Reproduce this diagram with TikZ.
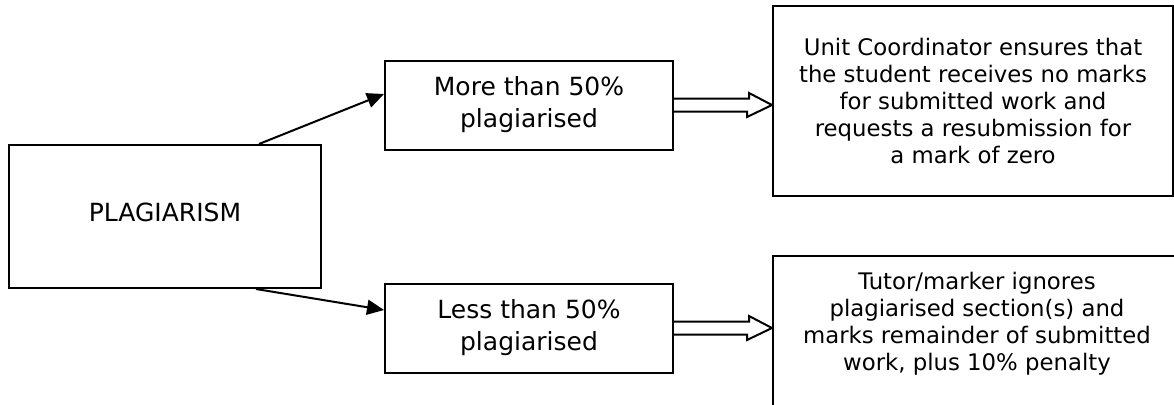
\documentclass[tikz,border=0pt]{standalone}
\usepackage{fontspec}
\setmainfont{DejaVu Sans}
\usetikzlibrary{arrows.meta,positioning}

\tikzset{
  box/.style={draw, line width=1pt, align=center, inner sep=0pt},
  casebox/.style={box, minimum width=144pt, minimum height=44.5pt, font=\fontsize{12.5}{16}\selectfont},
  outcomebox/.style={box, font=\fontsize{11.4}{13.5}\selectfont},
  branch/.style={line width=1pt, -{Triangle[length=8.5pt,width=7.5pt]}},
  hollow/.style={line width=1pt, line join=miter},
}
% open block arrow from one box to the next
\newcommand{\hollowarrow}[2]{%
  \draw[hollow] ([yshift=3.25pt]#1.east) -- ++(75,0) -- ++(0,-5.5) -- (#2.west |- #1.east)
    -- ++(-25,12) -- ++(0,-5.5) -- ++(-75,0);}

\begin{document}
\begin{tikzpicture}[x=0.5pt,y=-0.5pt]
\path[use as bounding box, clip] (0,0) rectangle (1174,404);

\node[box, minimum width=156pt, minimum height=71.5pt, text depth=4pt,
      font=\fontsize{12.5}{15}\selectfont] (plag) at (165,216.5) {PLAGIARISM};

\node[casebox] (more) at (529,105) {More than 50\%\\plagiarised};
\node[casebox] (less) at (529,328) {Less than 50\%\\plagiarised};

\node[outcomebox, minimum width=200pt, minimum height=95pt] (ucbox) at (973,101)
  {Unit Coordinator ensures that\\the student receives no marks\\for submitted work and\\requests a resubmission for\\a mark of zero};
\node[outcomebox, anchor=north, minimum width=204pt, inner ysep=8pt, text depth=14pt] (tutor) at (977,255)
  {Tutor/marker ignores\\plagiarised section(s) and\\marks remainder of submitted\\work, plus 10\% penalty};

\draw[branch] ([xshift=-31.5pt]plag.north east) -- ([yshift=5.5pt]more.west);
\draw[branch] ([xshift=-33pt]plag.south east) -- ([yshift=9pt]less.west);

\hollowarrow{more}{ucbox}
\hollowarrow{less}{tutor}
\end{tikzpicture}
\end{document}
